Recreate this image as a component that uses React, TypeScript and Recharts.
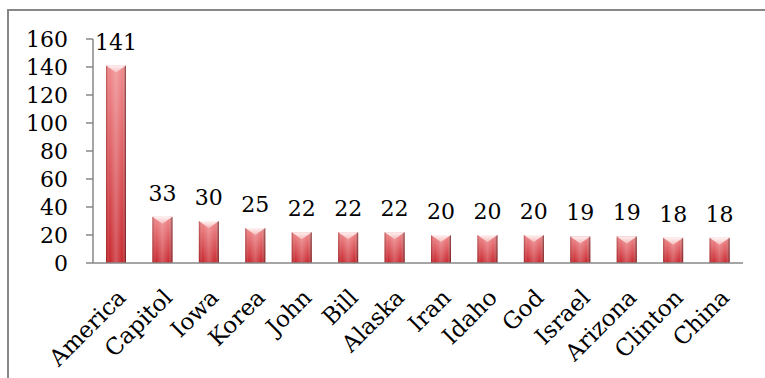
import { BarChart, Bar, XAxis, YAxis, LabelList } from 'recharts';

const TERMS = ['America', 'Capitol', 'Iowa', 'Korea', 'John', 'Bill', 'Alaska', 'Iran', 'Idaho', 'God', 'Israel', 'Arizona', 'Clinton', 'China'];
const COUNTS = [141, 33, 30, 25, 22, 22, 22, 20, 20, 20, 19, 19, 18, 18];
const Y_TICKS = [0, 20, 40, 60, 80, 100, 120, 140, 160];

// slot boundaries, so the bottom tick marks fall between the bars
const SLOT_TICKS = TERMS.map((_, i) => i).concat(TERMS.length);

const data = TERMS.map((term, i) => ({ term, count: COUNTS[i] }));

const FONT = '"DejaVu Serif", serif';
const AXIS = '#878787';

function BevelBar(props: any) {
  const { x, y, width, height } = props;
  if (!height || height <= 0) return null;
  const cap = Math.min(7, height / 2);
  return (
    <g>
      <rect x={x} y={y} width={width} height={height} fill="url(#barBody)" />
      <rect x={x} y={y} width={width} height={height} fill="url(#barSheen)" />
      <polygon
        points={`${x},${y} ${x + width},${y} ${x + width / 2},${y + cap}`}
        fill="url(#barCap)"
      />
    </g>
  );
}

function TermTick(props: any) {
  const { x, y, payload } = props;
  return (
    <g transform={`translate(${x + 11},${y + 28}) rotate(-45)`}>
      <text x={0} y={0} textAnchor="end" fontFamily={FONT} fontSize={23} fill="#000">
        {payload.value}
      </text>
    </g>
  );
}

export default function App() {
  return (
    <div style={{ position: 'fixed', left: 0, top: 0, width: 765, height: 378, overflow: 'hidden', background: '#fff' }}>
      <div style={{
        position: 'absolute',
        left: 7,
        top: 9,
        width: 800,
        height: 400,
        borderTop: `2px solid ${AXIS}`,
        borderLeft: `2px solid ${AXIS}`,
      }} />
      <div style={{ position: 'absolute', left: 0, top: 0 }}>
        <BarChart
          width={765}
          height={378}
          data={data}
          margin={{ top: 39, right: 22, bottom: 7, left: 0 }}
        >
          <defs>
            <linearGradient id="barBody" x1="0" y1="0" x2="0" y2="1">
              <stop offset="0%" stopColor="#f08a8d" />
              <stop offset="100%" stopColor="#c8282f" />
            </linearGradient>
            <linearGradient id="barSheen" x1="0" y1="0" x2="1" y2="0">
              <stop offset="0%" stopColor="#6a0000" stopOpacity={0.45} />
              <stop offset="18%" stopColor="#ffffff" stopOpacity={0} />
              <stop offset="50%" stopColor="#ffffff" stopOpacity={0.22} />
              <stop offset="82%" stopColor="#ffffff" stopOpacity={0} />
              <stop offset="100%" stopColor="#3c0000" stopOpacity={0.65} />
            </linearGradient>
            <linearGradient id="barCap" x1="0" y1="0" x2="0" y2="1">
              <stop offset="0%" stopColor="#fff2f2" />
              <stop offset="100%" stopColor="#f5bcbc" />
            </linearGradient>
          </defs>
          <XAxis
            xAxisId="slots"
            type="number"
            domain={[0, TERMS.length]}
            ticks={SLOT_TICKS}
            interval={0}
            tick={false}
            tickSize={8}
            height={8}
            axisLine={{ stroke: AXIS, strokeWidth: 1.5 }}
            tickLine={{ stroke: AXIS, strokeWidth: 1.5 }}
          />
          <XAxis
            xAxisId="terms"
            dataKey="term"
            interval={0}
            height={100}
            axisLine={false}
            tickLine={false}
            tickSize={0}
            tickMargin={0}
            tick={<TermTick />}
          />
          <YAxis
            domain={[0, 160]}
            ticks={Y_TICKS}
            interval={0}
            width={93}
            tickSize={7}
            tickMargin={18}
            axisLine={{ stroke: AXIS, strokeWidth: 1.5 }}
            tickLine={{ stroke: AXIS, strokeWidth: 1.5 }}
            tick={{ fontFamily: FONT, fontSize: 22, fill: '#000' }}
          />
          <Bar
            xAxisId="terms"
            dataKey="count"
            barSize={20}
            shape={<BevelBar />}
            isAnimationActive={false}
          >
            <LabelList
              dataKey="count"
              position="top"
              offset={16}
              fontFamily={FONT}
              fontSize={22}
              fill="#000"
            />
          </Bar>
        </BarChart>
      </div>
    </div>
  );
}
